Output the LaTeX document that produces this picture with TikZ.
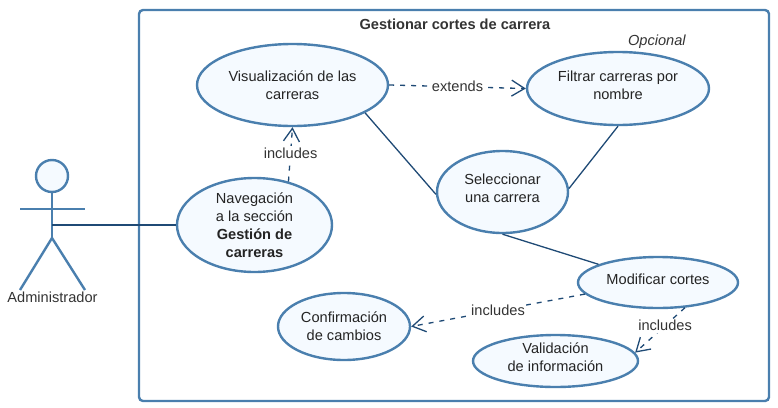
\documentclass[tikz,border=0pt]{standalone}
\usepackage{fontspec}
\setmainfont{Liberation Sans}
\usetikzlibrary{arrows.meta, shapes, positioning}
\definecolor{bordeazul}{HTML}{4A7FAE}
\definecolor{lineaazul}{HTML}{1F4A75}
\definecolor{rellenoazul}{HTML}{F5FAFF}
\definecolor{textogris}{HTML}{333333}
\tikzset{
  usecase/.style={draw=bordeazul, line width=2.4pt, fill=rellenoazul, ellipse, inner sep=0pt, align=center, text=textogris!70!black},
  actorline/.style={draw=bordeazul, line width=2.4pt},
  assoc/.style={draw=lineaazul, line width=1.3pt},
  depend/.style={assoc, dash pattern=on 5pt off 6pt, -{Straight Barb[length=13pt,width=16pt,line width=1.3pt]}},
  rotulo/.style={fill=white, inner sep=1.5pt, text=textogris}
}
\begin{document}
\begin{tikzpicture}[x=1pt,y=-1pt,font=\fontsize{14.6}{18}\selectfont]
\useasboundingbox (0,0) rectangle (778,407);
% System boundary
\draw[actorline, rounded corners=4pt] (139,10) rectangle (769,401);
\node[text=textogris] (titulo) at (455,24) {\textbf{Gestionar cortes de carrera}};
\node[text=textogris] (opcional) at (657,42) {\textit{Opcional}};

% Use cases
\node[usecase, minimum width=191pt, minimum height=82pt] (visual) at (292.5,85) {Visualización de las\\carreras};
\node[usecase, minimum width=182pt, minimum height=73pt, text depth=6pt] (filtrar) at (618,88.5) {Filtrar carreras por\\nombre};
\node[usecase, minimum width=131pt, minimum height=82pt, text depth=7pt] (selec) at (502.5,192) {Seleccionar\\una carrera};
\node[usecase, minimum width=155pt, minimum height=94pt] (naveg) at (254.5,225) {Navegación\\a la sección\\\textbf{Gestión de}\\\textbf{carreras}};
\node[usecase, minimum width=160pt, minimum height=51pt, text depth=6pt] (modif) at (658,282.5) {Modificar cortes};
\node[usecase, minimum width=132pt, minimum height=67pt] (confir) at (344,326.5) {Confirmación\\de cambios};
\node[usecase, minimum width=165pt, minimum height=52pt, text depth=8pt] (valid) at (555.5,361) {Validación\\de información};

% Actor
\node[circle, actorline, fill=rellenoazul, minimum size=32pt, inner sep=0pt] (cabeza) at (52,176) {};
\coordinate (cadera) at (52,238);
\coordinate (cintura) at (52,225);
\draw[actorline] (cabeza.south) -- (cadera);
\draw[actorline] (20,209) -- (85,209);
\draw[actorline] (20,290) -- (cadera) -- (85,290);
\node[text=textogris] (admin) at (52.5,297) {Administrador};

% Associations
\draw[assoc] (cintura) -- (naveg.west);
\draw[assoc] (visual.-21.5) -- (selec.-178);
\draw[assoc] (filtrar.south) -- (selec.3);
\draw[assoc] (selec.south) -- (modif.163);

% Dependencies
\draw[depend] (visual.east) -- node[rotulo, pos=.5] (rotextends) {extends} (filtrar.west);
\draw[depend] (naveg.52) -- node[rotulo, pos=.52] (rotnaveg) {includes} (visual.south);
\draw[depend] (modif.-171) -- node[rotulo, pos=.5] (rotconfir) {includes} (confir.east);
\draw[depend] (modif.-43) -- node[rotulo, pos=.4] (rotvalid) {includes} (valid.6);
\end{tikzpicture}
\end{document}
